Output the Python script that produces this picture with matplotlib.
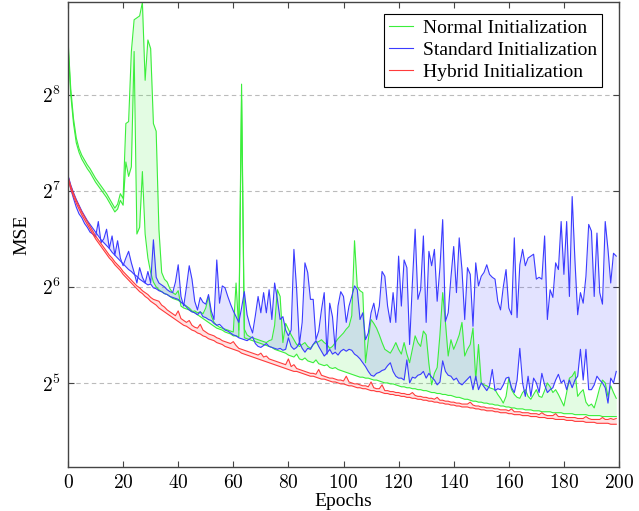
import numpy as np
import matplotlib
matplotlib.use("Agg")
import matplotlib.pyplot as plt

plt.rcParams['font.family'] = ['Liberation Serif', 'DejaVu Serif']
plt.rcParams['mathtext.fontset'] = 'cm'

''' --------------- data (values read as log2 of MSE, one per epoch) --------------- '''

epochs = np.arange(200)

normal_lo_log2 = [
    8.52, 8.00, 7.70, 7.50, 7.40, 7.33, 7.28, 7.23, 7.19, 7.14,
    7.09, 7.05, 7.01, 6.97, 6.93, 6.88, 6.83, 6.78, 6.81, 6.90,
    6.85, 7.30, 7.15, 7.25, 8.45, 6.55, 6.62, 7.20, 6.55, 6.30,
    6.15, 6.05, 6.00, 5.97, 5.95, 5.93, 5.92, 5.90, 5.88, 5.87,
    5.86, 5.84, 5.82, 5.80, 5.78, 5.75, 5.73, 5.71, 5.69, 5.67,
    5.65, 5.63, 5.61, 5.59, 5.57, 5.56, 5.55, 5.53, 5.52, 5.51,
    5.49, 5.49, 5.48, 7.95, 5.47, 5.46, 5.45, 5.44, 5.43, 5.42,
    5.41, 5.40, 5.39, 5.38, 5.37, 5.35, 5.34, 5.33, 5.32, 5.31,
    5.29, 5.28, 5.27, 5.30, 5.25, 5.24, 5.26, 5.23, 5.22, 5.21,
    5.24, 5.20, 5.19, 5.18, 5.19, 5.16, 5.15, 5.16, 5.14, 5.13,
    5.12, 5.11, 5.10, 5.09, 5.08, 5.07, 5.06, 5.06, 5.05, 5.05,
    5.04, 5.03, 5.03, 5.02, 5.01, 5.00, 5.00, 4.99, 4.99, 4.98,
    4.97, 4.96, 4.96, 4.95, 4.95, 4.94, 4.94, 4.93, 4.93, 4.92,
    4.92, 4.91, 4.90, 4.90, 4.89, 4.89, 4.88, 4.88, 4.87, 4.87,
    4.86, 4.85, 4.85, 4.84, 4.83, 4.83, 4.82, 4.81, 4.81, 4.80,
    4.80, 4.79, 4.79, 4.78, 4.78, 4.77, 4.77, 4.76, 4.76, 4.75,
    4.75, 4.74, 4.74, 4.73, 4.73, 4.73, 4.72, 4.72, 4.72, 4.71,
    4.71, 4.71, 4.70, 4.70, 4.70, 4.70, 4.69, 4.69, 4.69, 4.69,
    4.68, 4.68, 4.68, 4.68, 4.67, 4.67, 4.67, 4.67, 4.67, 4.66,
    4.66, 4.66, 4.66, 4.66, 4.65, 4.65, 4.65, 4.65, 4.65, 4.65]

normal_hi_log2 = [
    8.58, 8.06, 7.75, 7.55, 7.44, 7.37, 7.32, 7.27, 7.23, 7.18,
    7.13, 7.09, 7.05, 7.01, 6.97, 6.92, 6.87, 6.82, 6.86, 6.97,
    6.92, 7.70, 7.72, 8.45, 8.78, 8.80, 8.82, 8.96, 8.15, 8.57,
    8.48, 7.70, 7.62, 6.60, 6.15, 6.08, 6.05, 5.98, 5.94, 5.92,
    5.96, 5.80, 5.78, 5.77, 5.76, 5.74, 5.75, 5.73, 5.74, 5.72,
    5.78, 5.90, 5.70, 5.63, 5.60, 5.58, 5.57, 5.56, 5.55, 5.54,
    5.53, 6.04, 5.55, 8.11, 5.56, 5.50, 5.48, 5.47, 5.46, 5.45,
    5.44, 5.43, 5.42, 5.44, 5.45, 5.60, 5.97, 5.90, 5.42, 5.62,
    5.56, 5.50, 5.45, 5.40, 5.38, 5.40, 5.42, 5.38, 5.36, 5.40,
    5.42, 5.43, 5.45, 5.42, 5.40, 5.36, 5.38, 5.42, 5.46, 5.49,
    5.52, 5.56, 5.59, 5.70, 6.48, 6.00, 5.96, 5.94, 5.21, 5.45,
    5.66, 5.62, 5.57, 5.50, 5.42, 5.35, 5.33, 5.31, 5.36, 5.42,
    5.35, 5.30, 5.42, 5.30, 5.21, 5.35, 5.49, 5.42, 5.38, 5.54,
    5.50, 5.20, 4.98, 5.10, 5.16, 5.50, 5.94, 5.63, 5.28, 5.45,
    5.35, 5.42, 5.50, 5.63, 5.28, 5.35, 5.40, 5.57, 5.03, 5.40,
    5.00, 4.98, 4.97, 4.95, 4.94, 4.93, 4.88, 4.84, 4.79, 4.86,
    5.05, 4.93, 4.88, 4.85, 4.84, 4.90, 4.93, 4.86, 4.83, 4.88,
    4.93, 4.86, 4.85, 4.92, 5.00, 4.96, 4.90, 4.93, 4.88, 4.82,
    4.76, 4.90, 5.05, 5.07, 5.12, 4.86, 4.90, 4.93, 4.80, 4.76,
    4.78, 4.74, 4.84, 4.95, 5.03, 5.00, 4.86, 4.97, 4.90, 4.84]

standard_lo_log2 = [
    7.16, 7.06, 6.98, 6.91, 6.85, 6.79, 6.74, 6.69, 6.65, 6.61,
    6.57, 6.53, 6.49, 6.46, 6.43, 6.40, 6.36, 6.33, 6.30, 6.27,
    6.24, 6.21, 6.18, 6.16, 6.13, 6.11, 6.08, 6.06, 6.04, 6.02,
    6.03, 5.99, 5.98, 5.96, 5.95, 5.93, 5.92, 5.90, 5.89, 5.88,
    5.87, 5.84, 5.82, 5.79, 5.76, 5.74, 5.73, 5.71, 5.74, 5.69,
    5.68, 5.66, 5.65, 5.62, 5.60, 5.61, 5.58, 5.55, 5.54, 5.52,
    5.50, 5.49, 5.47, 5.46, 5.45, 5.44, 5.46, 5.48, 5.41, 5.38,
    5.37, 5.39, 5.41, 5.38, 5.37, 5.36, 5.35, 5.36, 5.34, 5.35,
    5.47, 5.38, 5.35, 5.37, 5.42, 5.36, 5.32, 5.36, 5.35, 5.40,
    5.44, 5.38, 5.33, 5.28, 5.31, 5.35, 5.30, 5.32, 5.29, 5.33,
    5.35, 5.33, 5.35, 5.34, 5.30, 5.28, 5.25, 5.21, 5.17, 5.12,
    5.08, 5.07, 5.10, 5.11, 5.13, 5.14, 5.18, 5.21, 5.12, 5.07,
    5.05, 5.05, 5.03, 5.24, 5.00, 5.06, 5.05, 5.08, 5.09, 5.12,
    5.05, 5.10, 5.06, 5.03, 4.98, 5.01, 5.23, 5.12, 5.08, 5.07,
    5.03, 5.05, 5.00, 4.98, 5.01, 5.04, 5.07, 4.93, 5.07, 4.93,
    5.00, 4.96, 4.92, 4.97, 5.14, 4.92, 4.94, 4.93, 4.98, 5.05,
    5.06, 4.95, 4.90, 5.03, 5.36, 5.00, 4.86, 5.07, 4.86, 5.05,
    5.00, 4.90, 5.10, 4.98, 4.90, 4.93, 4.95, 5.03, 5.09, 5.00,
    5.03, 4.93, 5.03, 4.95, 5.03, 5.07, 5.35, 5.03, 5.35, 4.93,
    4.93, 4.98, 5.07, 5.03, 5.00, 4.95, 4.79, 5.05, 5.00, 5.12]

standard_hi_log2 = [
    7.16, 7.02, 6.92, 6.83, 6.76, 6.72, 6.66, 6.62, 6.57, 6.55,
    6.52, 6.68, 6.46, 6.50, 6.60, 6.40, 6.53, 6.33, 6.48, 6.30,
    6.22, 6.30, 6.37, 6.25, 6.15, 6.04, 6.20, 6.10, 6.04, 6.16,
    6.04, 6.49, 6.10, 6.04, 6.02, 6.00, 5.97, 5.95, 5.94, 6.05,
    6.23, 5.90, 5.80, 6.00, 6.22, 6.08, 5.85, 5.76, 5.89, 5.84,
    5.82, 5.92, 5.75, 5.66, 6.28, 5.83, 6.01, 5.99, 5.90, 5.82,
    5.75, 5.69, 5.63, 5.78, 5.95, 5.71, 5.60, 5.52, 5.70, 5.90,
    5.73, 5.94, 5.73, 5.97, 5.66, 6.04, 5.87, 5.66, 5.69, 5.55,
    5.49, 5.55, 6.39, 5.97, 5.40, 5.63, 6.25, 6.15, 5.87, 5.87,
    5.45, 5.54, 5.76, 5.94, 5.30, 5.83, 5.69, 5.35, 5.80, 5.95,
    5.90, 5.63, 5.80, 5.90, 6.01, 5.97, 5.66, 5.73, 5.45, 5.52,
    5.73, 5.83, 5.66, 5.80, 6.16, 6.11, 5.80, 5.63, 5.94, 5.63,
    6.32, 5.80, 6.28, 6.20, 5.40, 6.04, 6.60, 5.87, 5.97, 6.53,
    5.63, 6.37, 6.22, 6.39, 5.85, 6.20, 6.70, 5.64, 5.73, 6.10,
    6.42, 5.94, 6.51, 6.18, 5.66, 6.20, 6.13, 5.59, 6.25, 6.01,
    6.11, 6.15, 6.23, 6.13, 6.10, 6.08, 5.85, 5.76, 6.00, 6.18,
    5.78, 5.71, 6.51, 5.68, 6.23, 6.39, 6.22, 6.30, 6.32, 6.34,
    6.08, 6.10, 6.08, 6.53, 5.66, 5.97, 5.89, 6.25, 6.18, 6.68,
    6.13, 6.68, 5.90, 6.94, 6.28, 5.71, 5.94, 5.83, 6.11, 6.65,
    6.58, 5.90, 6.56, 5.94, 5.82, 6.68, 6.39, 6.04, 6.35, 6.32]

hybrid_lo_log2 = [
    7.12, 7.02, 6.94, 6.87, 6.81, 6.75, 6.70, 6.65, 6.60, 6.55,
    6.50, 6.46, 6.42, 6.38, 6.34, 6.30, 6.27, 6.23, 6.20, 6.17,
    6.13, 6.10, 6.07, 6.04, 6.01, 5.98, 5.95, 5.93, 5.90, 5.88,
    5.85, 5.83, 5.81, 5.78, 5.76, 5.74, 5.72, 5.70, 5.68, 5.66,
    5.64, 5.62, 5.60, 5.59, 5.57, 5.55, 5.54, 5.52, 5.51, 5.49,
    5.48, 5.46, 5.45, 5.44, 5.42, 5.41, 5.40, 5.38, 5.37, 5.36,
    5.35, 5.34, 5.33, 5.31, 5.30, 5.29, 5.28, 5.27, 5.26, 5.25,
    5.24, 5.23, 5.22, 5.21, 5.20, 5.19, 5.18, 5.17, 5.16, 5.15,
    5.14, 5.13, 5.12, 5.12, 5.11, 5.10, 5.09, 5.08, 5.07, 5.07,
    5.06, 5.05, 5.04, 5.04, 5.03, 5.02, 5.01, 5.01, 5.00, 4.99,
    4.99, 4.98, 4.97, 4.97, 4.96, 4.95, 4.95, 4.94, 4.94, 4.93,
    4.92, 4.92, 4.91, 4.91, 4.90, 4.89, 4.89, 4.88, 4.88, 4.87,
    4.87, 4.86, 4.86, 4.85, 4.85, 4.84, 4.84, 4.83, 4.83, 4.82,
    4.82, 4.81, 4.81, 4.80, 4.80, 4.79, 4.79, 4.78, 4.78, 4.77,
    4.77, 4.76, 4.76, 4.75, 4.75, 4.75, 4.74, 4.74, 4.73, 4.73,
    4.72, 4.72, 4.71, 4.71, 4.71, 4.70, 4.70, 4.69, 4.69, 4.69,
    4.68, 4.68, 4.67, 4.67, 4.67, 4.66, 4.66, 4.66, 4.65, 4.65,
    4.65, 4.64, 4.64, 4.64, 4.63, 4.63, 4.63, 4.62, 4.62, 4.62,
    4.62, 4.61, 4.61, 4.61, 4.60, 4.60, 4.60, 4.60, 4.59, 4.59,
    4.59, 4.59, 4.58, 4.58, 4.58, 4.58, 4.58, 4.57, 4.57, 4.57]

hybrid_hi_log2 = [
    7.15, 7.05, 6.97, 6.90, 6.84, 6.78, 6.73, 6.68, 6.63, 6.58,
    6.53, 6.49, 6.45, 6.41, 6.37, 6.33, 6.30, 6.26, 6.23, 6.20,
    6.16, 6.13, 6.10, 6.07, 6.04, 6.01, 5.99, 5.96, 5.94, 5.92,
    5.89, 5.87, 5.86, 5.85, 5.81, 5.79, 5.76, 5.74, 5.72, 5.70,
    5.75, 5.67, 5.65, 5.63, 5.65, 5.60, 5.58, 5.57, 5.61, 5.55,
    5.53, 5.51, 5.50, 5.49, 5.47, 5.46, 5.44, 5.43, 5.42, 5.41,
    5.43, 5.39, 5.36, 5.35, 5.34, 5.33, 5.32, 5.31, 5.30, 5.29,
    5.31, 5.27, 5.28, 5.25, 5.24, 5.23, 5.22, 5.21, 5.20, 5.19,
    5.25, 5.17, 5.19, 5.15, 5.14, 5.13, 5.12, 5.11, 5.10, 5.10,
    5.09, 5.14, 5.08, 5.07, 5.06, 5.05, 5.05, 5.04, 5.03, 5.03,
    5.02, 5.07, 5.01, 5.00, 4.99, 4.99, 4.98, 4.97, 4.97, 4.96,
    5.01, 4.95, 4.94, 4.94, 4.98, 4.92, 4.92, 4.91, 4.91, 4.90,
    4.90, 4.89, 4.89, 4.88, 4.88, 4.90, 4.87, 4.86, 4.86, 4.85,
    4.85, 4.84, 4.84, 4.83, 4.85, 4.82, 4.82, 4.81, 4.81, 4.80,
    4.80, 4.79, 4.79, 4.78, 4.78, 4.78, 4.80, 4.77, 4.76, 4.76,
    4.75, 4.75, 4.74, 4.74, 4.74, 4.73, 4.73, 4.72, 4.72, 4.72,
    4.71, 4.73, 4.70, 4.70, 4.70, 4.69, 4.69, 4.69, 4.68, 4.68,
    4.68, 4.67, 4.69, 4.67, 4.66, 4.66, 4.66, 4.68, 4.65, 4.65,
    4.65, 4.64, 4.64, 4.64, 4.64, 4.63, 4.63, 4.63, 4.65, 4.63,
    4.62, 4.62, 4.62, 4.62, 4.64, 4.62, 4.62, 4.63, 4.62, 4.63]

labels = ['Normal Initialization', 'Standard Initialization', 'Hybrid Initialization']
xticks = [0, 20, 40, 60, 80, 100, 120, 140, 160, 180, 200]
yticks = [5, 6, 7, 8]

series = [
    (normal_lo_log2, normal_hi_log2, '#3bee3b'),
    (standard_lo_log2, standard_hi_log2, '#3b3bff'),
    (hybrid_lo_log2, hybrid_hi_log2, '#ff3b3b'),
]

''' --------------- plot --------------- '''

fig = plt.figure(figsize=(6.39, 5.11), dpi=100)
ax = fig.add_axes([68 / 639, 1 - 467 / 511, 551 / 639, 465 / 511])
ax.set_yscale('log', base=2)

for lo, hi, col in series:
    lo_v = 2.0 ** np.array(lo)
    hi_v = 2.0 ** np.array(hi)
    ax.fill_between(epochs, lo_v, hi_v, color=col, alpha=0.14, lw=0)

handles = []
for (lo, hi, col), lab in zip(series, labels):
    ax.plot(epochs, 2.0 ** np.array(lo), color=col, lw=0.8)
    h, = ax.plot(epochs, 2.0 ** np.array(hi), color=col, lw=0.8, label=lab)
    handles.append(h)

ax.set_xlim(0, 200)
ax.set_ylim(2 ** 4.125, 2 ** 8.965)

ax.set_xticks(xticks)
ax.set_xticklabels(['$%d$' % t for t in xticks])
ax.set_yticks([2 ** e for e in yticks])
ax.set_yticklabels(['$2^{%d}$' % e for e in yticks])
ax.yaxis.set_minor_locator(matplotlib.ticker.NullLocator())

ax.tick_params(direction='in', length=4, width=0.8, top=True, right=True,
               labelsize=14, color='#444444', pad=5)
for sp in ax.spines.values():
    sp.set_color('#444444')
    sp.set_linewidth(1.0)

ax.grid(axis='y', which='major', color='#bbbbbb', linestyle=(0, (4, 3)), lw=0.8)
ax.set_axisbelow(True)

ax.set_xlabel('Epochs', fontsize=14, labelpad=1)
ax.set_ylabel('MSE', fontsize=14, labelpad=8)

leg = ax.legend(handles=handles, loc='upper right', bbox_to_anchor=(0.97, 0.975),
                borderaxespad=0, fontsize=14, frameon=True, fancybox=False,
                edgecolor='black', framealpha=1, handlelength=1.2,
                handletextpad=0.5, labelspacing=0.22, borderpad=0.3)
leg.get_frame().set_linewidth(0.8)

fig.savefig('out.png', dpi=100)
